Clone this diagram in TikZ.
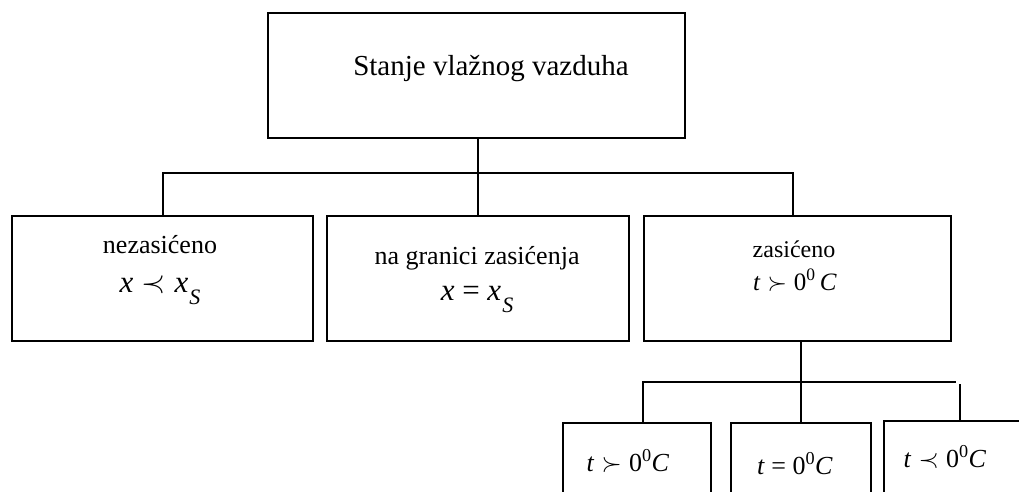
\RequirePackage{fix-cm}
\documentclass[tikz,border=0pt]{standalone}
\usepackage{fontspec}
\setmainfont{Liberation Serif}
\newcommand{\mi}[1]{\textit{#1}}
\newcommand{\fsz}[1]{\fontsize{#1}{#1}\selectfont}
\newcommand{\subS}{\raisebox{-0.4em}{\fsz{22}\mi{S}}}
\begin{document}
\begin{tikzpicture}[x=1pt,y=-1pt,
  box/.style={draw,line width=1.7pt,inner sep=0pt,anchor=north west},
  lbl/.style={anchor=base,inner sep=0pt},
  wire/.style={line width=1.7pt}]
\useasboundingbox (0,0) rectangle (1019,491);
\clip (0,0) rectangle (1019,491);

% boxes
\node[box,minimum width=417pt,minimum height=125pt] (root) at (267,12) {};
\node[box,minimum width=301pt,minimum height=125pt] (unsat) at (11,215) {};
\node[box,minimum width=302pt,minimum height=125pt] (limit) at (326,215) {};
\node[box,minimum width=307pt,minimum height=125pt] (sat) at (643,215) {};
\node[box,minimum width=148pt,minimum height=110pt] (sa) at (562,422) {};
\node[box,minimum width=140pt,minimum height=110pt] (sb) at (730,422) {};
\node[box,minimum width=160pt,minimum height=110pt] (sc) at (883,420) {};

% labels
\node[lbl] (troot) at (491,75) {\fsz{29}Stanje vlažnog vazduha};
\node[lbl] (tunsat) at (160,253) {\fsz{26}nezasićeno};
\node[lbl] (munsat) at (160,292) {\fsz{31}\mi{x}${}\prec{}$\mi{x}\kern1pt\subS};
\node[lbl] (tlimit) at (477,264) {\fsz{26}na granici zasićenja};
\node[lbl] (mlimit) at (477,300) {\fsz{31}\mi{x} = \mi{x}\kern1pt\subS};
\node[lbl] (tsat) at (794,257) {\fsz{24}zasićeno};
\node[lbl] (msat) at (795,290) {\fsz{25}\mi{t}${}\succ{}$0\textsuperscript{0}\,\mi{C}};
\node[lbl] (ma) at (628,471) {\fsz{26}\mi{t}${}\succ{}$0\textsuperscript{0}\mi{C}};
\node[lbl] (mb) at (795,474) {\fsz{26}\mi{t} = 0\textsuperscript{0}\mi{C}};
\node[lbl] (mc) at (945,467) {\fsz{26}\mi{t}${}\prec{}$0\textsuperscript{0}\mi{C}};

% first level connectors
\coordinate (busl) at (163,173);
\coordinate (busr) at (793,173);
\draw[wire] (root.south -| limit.north) -- (limit.north);
\draw[wire] (busl |- unsat.north) -- (busl) -- (busr) -- (busr |- sat.north);

% second level connectors
\coordinate (jl) at (643,382);
\coordinate (jr) at (956,382);
\coordinate (jc) at (960,384);
\draw[wire] (sat.south -| sb.north) -- (sb.north);
\draw[wire] (jl |- sa.north) -- (jl) -- (jr);
\draw[wire] (jc) -- (jc |- sc.north);
\end{tikzpicture}
\end{document}
